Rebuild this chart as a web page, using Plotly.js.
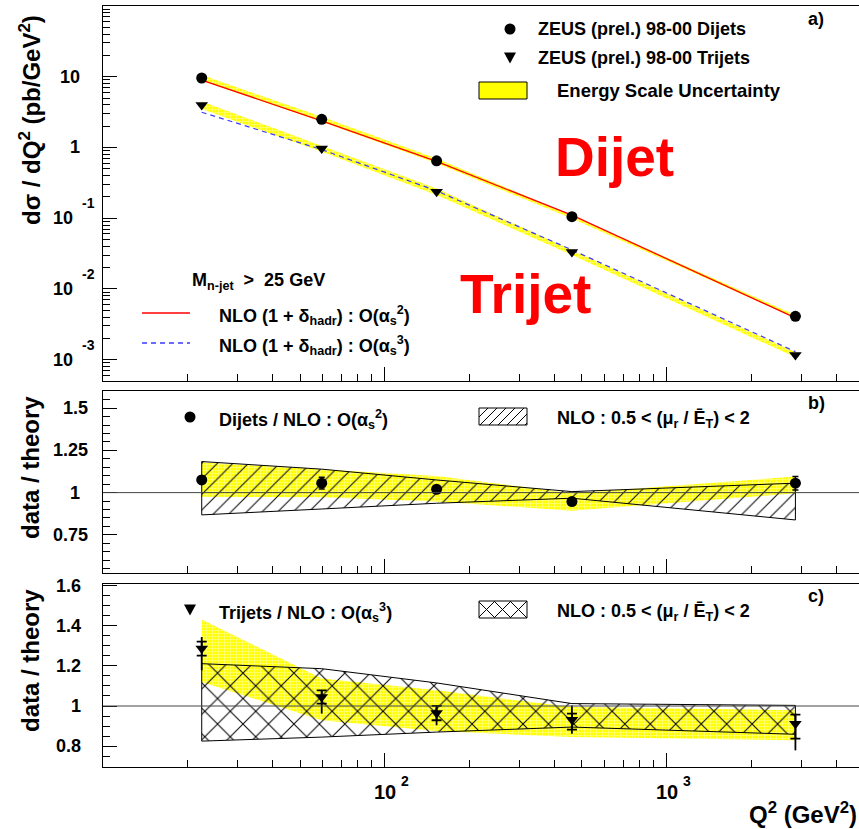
<!DOCTYPE html>
<html><head><meta charset="utf-8">
<script src="https://cdn.plot.ly/plotly-3.0.1.min.js"></script>
<style>html,body{margin:0;padding:0;overflow:hidden;background:#fff;width:859px;height:829px}#plot{width:864px;height:829px}</style>
</head><body><div id="plot"></div><script>
// ---------------- data ----------------
const q2 = [22.4, 59.7, 152.6, 461, 2862];

// panel a: cross sections (pb/GeV^2)
const dijetXsec  = [9.6, 2.5, 0.647, 0.105, 0.0041];
const trijetXsec = [4.0, 0.97, 0.237, 0.0332, 0.00117];
const nloDijet   = [8.97, 2.38, 0.634, 0.1105, 0.0039];
const nloTrijet  = [3.15, 0.933, 0.244, 0.0357, 0.0013];
const dijetEsLo  = [8.75, 2.32, 0.600, 0.0987, 0.00388];
const dijetEsHi  = [10.57, 2.71, 0.697, 0.110, 0.00427];
const trijetEsLo = [3.5, 0.867, 0.2135, 0.0302, 0.00108];
const trijetEsHi = [4.47, 1.061, 0.263, 0.0355, 0.00127];

// panel b: dijets / NLO
const dijetRatio      = [1.075, 1.056, 1.02, 0.947, 1.056];
const dijetRatioErr   = [0.02, 0.035, 0.02, 0.02, 0.04];
const dijetScaleHi    = [1.184, 1.139, 1.075, 1.006, 1.056];
const dijetScaleLo    = [0.868, 0.903, 0.937, 0.967, 0.838];
const dijetEsRatioHi  = [1.178, 1.139, 1.099, 0.996, 1.095];
const dijetEsRatioLo  = [0.976, 0.973, 0.947, 0.893, 0.996];

// panel c: trijets / NLO
const trijetRatio     = [1.286, 1.045, 0.965, 0.932, 0.912];
const trijetStatUp    = [0.035, 0.033, 0.036, 0.03, 0.045];
const trijetStatDn    = [0.035, 0.033, 0.036, 0.05, 0.075];
const trijetTotUp     = [0.058, 0.035, 0.036, 0.071, 0.05];
const trijetTotDn     = [0.108, 0.083, 0.061, 0.07, 0.133];
const trijetScaleHi   = [1.211, 1.186, 1.115, 1.012, 1.003];
const trijetScaleLo   = [0.825, 0.845, 0.870, 0.895, 0.859];
const trijetEsRatioHi = [1.431, 1.137, 1.078, 0.995, 0.979];
const trijetEsRatioLo = [1.12, 0.929, 0.875, 0.845, 0.829];

// tick labels
const xTickVals  = [100, 1000];
const xTickBase  = ['10', '10'];
const xTickExp   = ['2', '3'];
const yaTickVals = [0.001, 0.01, 0.1, 1, 10];
const yaTickBase = ['10', '10', '10', '1', '10'];
const yaTickExp  = ['-3', '-2', '-1', '', ''];
const ybTickVals = [0.75, 1, 1.25, 1.5];
const ybTickText = ['0.75', '1', '1.25', '1.5'];
const ycTickVals = [0.8, 1, 1.2, 1.4, 1.6];
const ycTickText = ['0.8', '1', '1.2', '1.4', '1.6'];

// ---------------- helpers ----------------
const FONT = 'Liberation Sans, Arial, Helvetica, sans-serif';
const L = 103, T = 6, W = 761, H = 761;
const px = x => (x - L) / W;
const py = y => (T + H - y) / H;

function band(x, lo, hi) {
  return {x: x.concat(x.slice().reverse(), [x[0]]), y: hi.concat(lo.slice().reverse(), [hi[0]])};
}
function range(a, b, s) { const r = []; for (let v = a; v <= b + 1e-9; v += s) r.push(+v.toFixed(4)); return r; }

const xMinor = [];
for (let d = 1; d <= 3; d++) for (let k = 2; k <= 9; k++) { const v = k * Math.pow(10, d); if (v < 5000) xMinor.push(v); }
const yaMinor = [];
for (let d = -4; d <= 1; d++) for (let k = 2; k <= 9; k++) { const v = k * Math.pow(10, d); if (v > 5e-4 && v < 100) yaMinor.push(v); }

const yellow = {shape: '+', fgcolor: '#ffffb4', bgcolor: '#ffff00', size: 3, solidity: 0.3};

const traces = [];
// panel a
[[dijetEsLo, dijetEsHi], [trijetEsLo, trijetEsHi]].forEach(([lo, hi]) => {
  const b = band(q2, lo, hi);
  traces.push({x: b.x, y: b.y, xaxis: 'x', yaxis: 'y', mode: 'lines', fill: 'toself',
    fillcolor: '#ffff00', fillpattern: yellow, line: {width: 0}, hoverinfo: 'skip', showlegend: false});
});
traces.push({x: q2, y: nloDijet, xaxis: 'x', yaxis: 'y', mode: 'lines', line: {color: '#ff0000', width: 1.3}, showlegend: false});
traces.push({x: q2, y: nloTrijet, xaxis: 'x', yaxis: 'y', mode: 'lines', line: {color: '#3a3aff', width: 1.2, dash: '5px,4px'}, showlegend: false});
traces.push({x: q2, y: dijetXsec, xaxis: 'x', yaxis: 'y', mode: 'markers', marker: {symbol: 'circle', size: 11, color: '#000'}, showlegend: false});
traces.push({x: q2, y: trijetXsec, xaxis: 'x', yaxis: 'y', mode: 'markers', marker: {symbol: 'triangle-down', size: 11, color: '#000'}, showlegend: false});

// panel b
let b = band(q2, dijetEsRatioLo, dijetEsRatioHi);
traces.push({x: b.x, y: b.y, xaxis: 'x2', yaxis: 'y2', mode: 'lines', fill: 'toself', fillcolor: '#ffff00', fillpattern: yellow, line: {width: 0}, hoverinfo: 'skip', showlegend: false});
b = band(q2, dijetScaleLo, dijetScaleHi);
traces.push({x: b.x, y: b.y, xaxis: 'x2', yaxis: 'y2', mode: 'lines', fill: 'toself', fillcolor: 'rgba(0,0,0,0)',
  fillpattern: {shape: '/', fgcolor: '#000', bgcolor: 'rgba(0,0,0,0)', size: 11, solidity: 0.09},
  line: {color: '#000', width: 1}, hoverinfo: 'skip', showlegend: false});
traces.push({x: q2, y: dijetRatio, xaxis: 'x2', yaxis: 'y2', mode: 'markers', marker: {symbol: 'circle', size: 11, color: '#000'},
  error_y: {type: 'data', array: dijetRatioErr, width: 3, thickness: 1.5, color: '#000'}, showlegend: false});

// panel c
b = band(q2, trijetEsRatioLo, trijetEsRatioHi);
traces.push({x: b.x, y: b.y, xaxis: 'x3', yaxis: 'y3', mode: 'lines', fill: 'toself', fillcolor: '#ffff00', fillpattern: yellow, line: {width: 0}, hoverinfo: 'skip', showlegend: false});
b = band(q2, trijetScaleLo, trijetScaleHi);
traces.push({x: b.x, y: b.y, xaxis: 'x3', yaxis: 'y3', mode: 'lines', fill: 'toself', fillcolor: 'rgba(0,0,0,0)',
  fillpattern: {shape: 'x', fgcolor: '#000', bgcolor: 'rgba(0,0,0,0)', size: 18, solidity: 0.11},
  line: {color: '#000', width: 1}, hoverinfo: 'skip', showlegend: false});
traces.push({x: q2, y: trijetRatio, xaxis: 'x3', yaxis: 'y3', mode: 'markers', marker: {size: 1, color: 'rgba(0,0,0,0)'},
  error_y: {type: 'data', symmetric: false, array: trijetTotUp, arrayminus: trijetTotDn, width: 0, thickness: 1.8, color: '#000'}, showlegend: false});
traces.push({x: q2, y: trijetRatio, xaxis: 'x3', yaxis: 'y3', mode: 'markers', marker: {symbol: 'triangle-down', size: 11, color: '#000'},
  error_y: {type: 'data', symmetric: false, array: trijetStatUp, arrayminus: trijetStatDn, width: 5, thickness: 1.8, color: '#000'}, showlegend: false});

// ---------------- axes ----------------
function xAxis(anchor) {
  return {type: 'log', range: [1, 3.7], anchor: anchor, ticks: 'inside', ticklen: 14, tickwidth: 1, tickcolor: '#000',
    showline: true, linecolor: '#000', linewidth: 1, mirror: true, showgrid: false, zeroline: false,
    tickmode: 'array', tickvals: xTickVals, showticklabels: false,
    minor: {tickmode: 'array', tickvals: xMinor, ticks: 'inside', ticklen: 7, tickwidth: 1, tickcolor: '#000', showgrid: false}};
}
function yAxis(domain, extra) {
  return Object.assign({domain: domain, ticks: 'inside', ticklen: 14, tickwidth: 1, tickcolor: '#000',
    showline: true, linecolor: '#000', linewidth: 1, mirror: true, showgrid: false, zeroline: false,
    tickmode: 'array', showticklabels: false}, extra);
}

// ---------------- legend decorations ----------------
function hatch(x0, y0, x1, y1, s, dirs) {
  let p = '';
  const seg = (ax, ay, bx, by) => { p += `M${px(ax)},${py(ay)}L${px(bx)},${py(by)}`; };
  if (dirs.includes('/')) for (let c = x0 + y0; c <= x1 + y1; c += s) {
    const xs = Math.max(x0, c - y1), xe = Math.min(x1, c - y0);
    if (xe > xs) seg(xs, c - xs, xe, c - xe);
  }
  if (dirs.includes('\\')) for (let c = x0 - y1; c <= x1 - y0; c += s) {
    const xs = Math.max(x0, c + y0), xe = Math.min(x1, c + y1);
    if (xe > xs) seg(xs, xs - c, xe, xe - c);
  }
  return p;
}
const P = {xref: 'paper', yref: 'paper'};
function circ(cx, cy, r) { return Object.assign({type: 'circle', x0: px(cx - r), x1: px(cx + r), y0: py(cy + r), y1: py(cy - r), fillcolor: '#000', line: {width: 0}}, P); }
function tri(cx, cy, r) { return Object.assign({type: 'path', path: `M${px(cx - r)},${py(cy - r * 0.9)}L${px(cx + r)},${py(cy - r * 0.9)}L${px(cx)},${py(cy + r * 0.9)}Z`, fillcolor: '#000', line: {width: 0}}, P); }
function rect(x0, y0, x1, y1, fill) { return Object.assign({type: 'rect', x0: px(x0), x1: px(x1), y0: py(y1), y1: py(y0), fillcolor: fill, line: {color: '#000', width: 1}}, P); }
function seg(x0, y0, x1, y1, color, dash) { return Object.assign({type: 'line', x0: px(x0), x1: px(x1), y0: py(y0), y1: py(y1), line: {color: color, width: 1.3, dash: dash || 'solid'}}, P); }

const shapes = [
  {type: 'line', xref: 'x2 domain', x0: 0, x1: 1, yref: 'y2', y0: 1, y1: 1, line: {color: '#444', width: 1}},
  {type: 'line', xref: 'x3 domain', x0: 0, x1: 1, yref: 'y3', y0: 1, y1: 1, line: {color: '#444', width: 1}},
  circ(510, 29, 5.5), tri(510, 58, 6),
  rect(479, 82, 527, 99, '#ffff00'),
  seg(142, 313, 190, 313, '#ff0000'), seg(142, 343, 190, 343, '#3a3aff', '5px,4px'),
  circ(190, 417, 5.5), rect(479, 408, 527, 425, 'rgba(0,0,0,0)'),
  Object.assign({type: 'path', path: hatch(479, 408, 527, 425, 9, '/'), line: {color: '#000', width: 1}}, P),
  tri(190, 610, 6), rect(479, 601, 527, 618, 'rgba(0,0,0,0)'),
  Object.assign({type: 'path', path: hatch(479, 601, 527, 618, 16, '/\\'), line: {color: '#000', width: 1}}, P)
];

function fnt(size, color) { return {family: FONT, size: size, color: color || '#000', weight: 'bold'}; }
function txt(text, x, y, size, opts) {
  return Object.assign({text: text, xref: 'paper', yref: 'paper', x: px(x), y: py(y), xanchor: 'left', yanchor: 'middle',
    showarrow: false, font: fnt(size)}, opts || {});
}
const annotations = [
  txt('ZEUS (prel.) 98-00 Dijets', 536, 29, 18),
  txt('ZEUS (prel.) 98-00 Trijets', 536, 58, 18),
  txt('Energy Scale Uncertainty', 555, 91, 18.5),
  txt('a)', 816, 19, 18, {xanchor: 'center'}),
  txt('M<sub>n-jet</sub>  &gt;  25 GeV', 190, 281, 18),
  txt('NLO (1 + δ<sub>hadr</sub>) : O(α<sub>s</sub><sup>2</sup>)', 217, 315, 18),
  txt('NLO (1 + δ<sub>hadr</sub>) : O(α<sub>s</sub><sup>3</sup>)', 217, 345, 18),
  txt('Dijet', 614, 157, 55, {xanchor: 'center', font: fnt(55, '#ff0000')}),
  txt('Trijet', 525, 294, 55, {xanchor: 'center', font: fnt(55, '#ff0000')}),
  txt('Dijets / NLO : O(α<sub>s</sub><sup>2</sup>)', 217, 419, 18),
  txt('NLO : 0.5 &lt; (μ<sub>r</sub> / Ē<sub>T</sub>) &lt; 2', 555, 419, 18),
  txt('b)', 816, 403, 18, {xanchor: 'center'}),
  txt('Trijets / NLO : O(α<sub>s</sub><sup>3</sup>)', 217, 612, 18),
  txt('NLO : 0.5 &lt; (μ<sub>r</sub> / Ē<sub>T</sub>) &lt; 2', 555, 612, 18),
  txt('c)', 816, 596, 18, {xanchor: 'center'}),
  txt('dσ / dQ<sup>2</sup> (pb/GeV<sup>2</sup>)', 30, 120, 24, {xanchor: 'center', textangle: -90}),
  txt('data / theory', 30, 468, 24, {xanchor: 'center', textangle: -90}),
  txt('data / theory', 30, 661, 24, {xanchor: 'center', textangle: -90}),
  txt('Q<sup>2</sup> (GeV<sup>2</sup>)', 747, 813, 24)
];

// tick labels as text, placed on the axes' own scales
xTickVals.forEach((v, i) => {
  annotations.push({text: xTickBase[i], xref: 'x3', x: Math.log10(v), yref: 'paper', y: py(792), xanchor: 'center', yanchor: 'middle', showarrow: false, font: fnt(20)});
  annotations.push({text: xTickExp[i], xref: 'x3', x: Math.log10(v), xshift: 14, yref: 'paper', y: py(781), xanchor: 'left', yanchor: 'middle', showarrow: false, font: fnt(14)});
});
yaTickVals.forEach((v, i) => {
  const hasExp = yaTickExp[i] !== '';
  annotations.push({text: yaTickBase[i], xref: 'paper', x: px(hasExp ? 75 : 82), yref: 'y', y: Math.log10(v), xanchor: 'right', yanchor: 'middle', showarrow: false, font: fnt(18)});
  if (hasExp) annotations.push({text: yaTickExp[i], xref: 'paper', x: px(80), yref: 'y', y: Math.log10(v), yshift: 15, xanchor: 'left', yanchor: 'middle', showarrow: false, font: fnt(14)});
});
ybTickVals.forEach((v, i) => {
  annotations.push({text: ybTickText[i], xref: 'paper', x: px(ybTickText[i] === '1' ? 82 : 90), yref: 'y2', y: v, xanchor: 'right', yanchor: 'middle', showarrow: false, font: fnt(18)});
});
ycTickVals.forEach((v, i) => {
  annotations.push({text: ycTickText[i], xref: 'paper', x: px(83), yref: 'y3', y: v, xanchor: 'right', yanchor: 'middle', showarrow: false, font: fnt(18)});
});

const layout = {
  width: 864, height: 829, margin: {l: L, r: 0, t: T, b: 829 - T - H},
  paper_bgcolor: '#fff', plot_bgcolor: '#fff', showlegend: false,
  font: {family: FONT, color: '#000'},
  xaxis: xAxis('y'), xaxis2: xAxis('y2'), xaxis3: xAxis('y3'),
  yaxis: yAxis([0.50723, 1], {type: 'log', range: [Math.log10(5e-4), 2], tickvals: yaTickVals,
    minor: {tickmode: 'array', tickvals: yaMinor, ticks: 'inside', ticklen: 7, tickwidth: 1, tickcolor: '#000', showgrid: false}}),
  yaxis2: yAxis([0.25453, 0.49409], {range: [0.522, 1.602], tickvals: ybTickVals,
    minor: {tickmode: 'array', tickvals: range(0.55, 1.6, 0.05), ticks: 'inside', ticklen: 7, tickwidth: 1, tickcolor: '#000', showgrid: false}}),
  yaxis3: yAxis([0, 0.24047], {range: [0.696, 1.608], tickvals: ycTickVals,
    minor: {tickmode: 'array', tickvals: range(0.7, 1.6, 0.05), ticks: 'inside', ticklen: 7, tickwidth: 1, tickcolor: '#000', showgrid: false}}),
  shapes: shapes, annotations: annotations
};
Plotly.newPlot('plot', traces, layout, {displayModeBar: false, staticPlot: true});
</script></body></html>
